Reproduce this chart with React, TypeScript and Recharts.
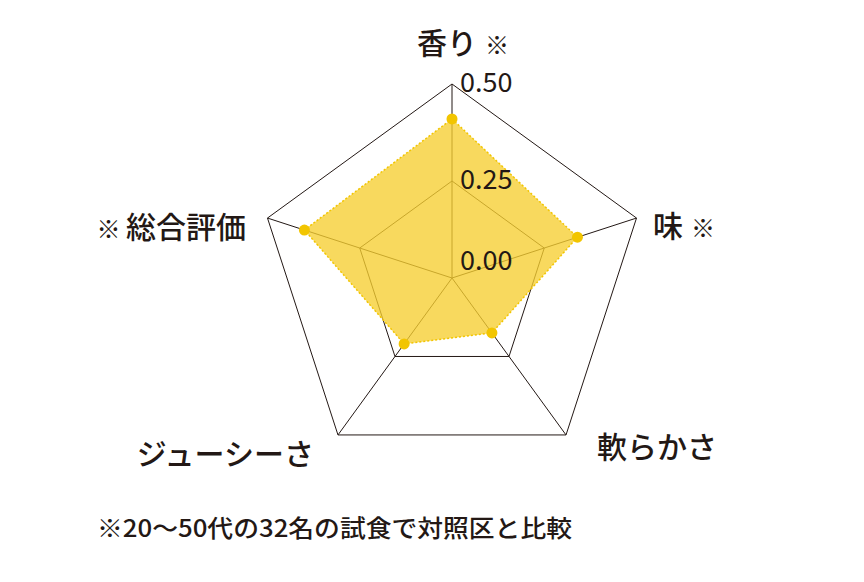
import { PolarAngleAxis, PolarGrid, PolarRadiusAxis, Radar, RadarChart } from "recharts"

// taste panel scores vs. control
const categories = ["香り", "味", "軟らかさ", "ジューシーさ", "総合評価"]
const scores = [0.41, 0.34, 0.175, 0.21, 0.4]
// where the "※" note mark sits for each category
const noteMarks = ["after", "after", "", "", "before"]
const radiusTicks = [0, 0.25, 0.5]
const footnote = "※20〜50代の32名の試食で対照区と比較"

const data = categories.map((name, i) => ({ name, score: scores[i] }))

const FONT = "'Noto Sans CJK JP', 'Noto Sans', sans-serif"
const INK = "#231815"
const FILL = "#F6CE31"
const DOT = "#F2C500"

const WIDTH = 864
const HEIGHT = 582
const CX = 452
const CY = 278
const RADIUS = 194

// label anchors, placed by hand to sit like the print layout
const LABEL_LAYOUT: Record<string, { x: number; y: number; anchor: "start" | "end" }> = {
  香り: { x: 417, y: 54, anchor: "start" },
  味: { x: 653, y: 237, anchor: "start" },
  軟らかさ: { x: 597, y: 458, anchor: "start" },
  ジューシーさ: { x: 314, y: 465, anchor: "end" },
  総合評価: { x: 246, y: 238, anchor: "end" },
}

function CategoryTick(props: any) {
  const name = String(props.payload?.value)
  const pos = LABEL_LAYOUT[name]
  if (!pos) return null
  const mark = noteMarks[categories.indexOf(name)]
  return (
    <text
      x={pos.x}
      y={pos.y}
      textAnchor={pos.anchor}
      fill={INK}
      fontSize={30}
      fontWeight={500}
      fontFamily={FONT}
    >
      {mark === "before" && <tspan fontSize={24}>※ </tspan>}
      <tspan>{name}</tspan>
      {mark === "after" && (
        <tspan fontSize={24} dx={8}>
          ※
        </tspan>
      )}
    </text>
  )
}

function ValueTick(props: any) {
  const v = Number(props.payload?.value)
  return (
    <text
      x={CX + 8}
      y={props.y + (v === 0 ? -8 : 8)}
      textAnchor="start"
      fill={INK}
      fontSize={27}
      fontFamily={FONT}
    >
      {v.toFixed(2)}
    </text>
  )
}

function ScoreDot(props: any) {
  return <circle cx={props.cx} cy={props.cy} r={5.5} fill={DOT} stroke="none" />
}

export default function App() {
  return (
    <div
      style={{
        position: "absolute",
        left: 0,
        top: 0,
        width: WIDTH,
        height: HEIGHT,
        background: "#ffffff",
      }}
    >
      <RadarChart
        width={WIDTH}
        height={HEIGHT}
        data={data}
        cx={CX}
        cy={CY}
        outerRadius={RADIUS}
        margin={{ top: 0, right: 0, bottom: 0, left: 0 }}
      >
        <PolarGrid gridType="polygon" stroke={INK} strokeWidth={1} strokeOpacity={1} />
        <PolarAngleAxis dataKey="name" tick={<CategoryTick />} tickLine={false} axisLine={false} />
        <Radar
          dataKey="score"
          fill={FILL}
          fillOpacity={0.78}
          stroke={DOT}
          strokeWidth={1.5}
          strokeDasharray="2 2"
          dot={<ScoreDot />}
          isAnimationActive={false}
        />
        <PolarRadiusAxis
          angle={90}
          type="number"
          domain={[0, 0.5]}
          allowDecimals
          allowDataOverflow
          ticks={radiusTicks}
          tickCount={3}
          tick={<ValueTick />}
          tickLine={false}
          axisLine={false}
        />
      </RadarChart>
      <svg
        width={WIDTH}
        height={60}
        style={{ position: "absolute", left: 0, top: 500 }}
      >
        <text
          x={97}
          y={37}
          fill={INK}
          fontSize={24}
          fontWeight={500}
          fontFamily={FONT}
          textLength={475}
          lengthAdjust="spacingAndGlyphs"
        >
          {footnote}
        </text>
      </svg>
    </div>
  )
}
